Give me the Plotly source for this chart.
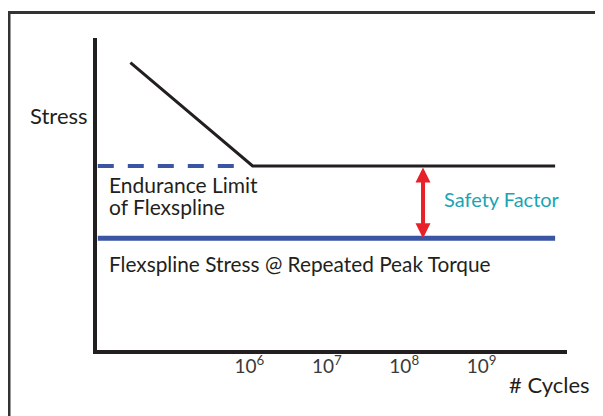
import math
import plotly.graph_objects as go

# ---- data ----
sn_cycles = [2.9e4, 1.1e6, 8.9e9]          # S-N curve (sloped + endurance plateau)
sn_stress = [9.21, 5.9, 5.9]
endurance_dash_cycles = [1.1e4, 6.5e5]     # dashed extension of endurance limit
endurance_limit = 5.9
peak_stress_cycles = [1.1e4, 8.9e9]        # flexspline stress at repeated peak torque
peak_stress = 3.58
safety_cycles = 1.75e8                     # position of the safety-factor arrow
tick_vals = [1e6, 1e7, 1e8, 1e9]
tick_text = ["10<sup>6</sup>", "10<sup>7</sup>", "10<sup>8</sup>", "10<sup>9</sup>"]

FONT = "Lato"
DARK = "#231f20"
BLUE = "#3a55a4"
RED = "#e8202a"
TEAL = "#19a4b4"

OFF = 8  # page body margin offset
W, H = 603 - OFF, 416 - OFF
L, T = 97 - OFF, 38 - OFF
R = 36
B = 416 - 350
PW, PH = W - L - R, H - T - B


def px(x):
    return (x - OFF - L) / PW


def py(y):
    return (H - B - (y - OFF)) / PH


fig = go.Figure()

fig.add_trace(go.Scatter(x=sn_cycles, y=sn_stress, mode="lines",
                         line=dict(color=DARK, width=3), hoverinfo="skip"))
fig.add_trace(go.Scatter(x=endurance_dash_cycles, y=[endurance_limit] * 2, mode="lines",
                         line=dict(color=BLUE, width=4, dash="16px,14px"), hoverinfo="skip"))
fig.add_trace(go.Scatter(x=peak_stress_cycles, y=[peak_stress] * 2, mode="lines",
                         line=dict(color=BLUE, width=5), hoverinfo="skip"))

xa = math.log10(safety_cycles)
fig.add_annotation(x=xa, y=peak_stress, ax=xa, ay=endurance_limit,
                   xref="x", yref="y", axref="x", ayref="y",
                   text="", showarrow=True, arrowside="end+start",
                   arrowhead=2, startarrowhead=2, arrowwidth=4,
                   arrowsize=0.75, startarrowsize=0.75, arrowcolor=RED,
                   standoff=0, startstandoff=0)


def txt(size, color=DARK):
    return dict(family=FONT, size=size, color=color)


fig.add_annotation(x=px(27.5), y=py(115), xref="paper", yref="paper", text="Stress",
                   showarrow=False, xanchor="left", yanchor="middle", font=txt(22))
fig.add_annotation(x=px(507), y=py(384.5), xref="paper", yref="paper", text="# Cycles",
                   showarrow=False, xanchor="left", yanchor="middle", font=txt(22))
fig.add_annotation(x=px(106.5), y=py(184), xref="paper", yref="paper", text="Endurance Limit",
                   showarrow=False, xanchor="left", yanchor="middle", font=txt(21))
fig.add_annotation(x=px(106.5), y=py(206), xref="paper", yref="paper", text="of Flexspline",
                   showarrow=False, xanchor="left", yanchor="middle", font=txt(21))
fig.add_annotation(x=px(106.5), y=py(263), xref="paper", yref="paper",
                   text="Flexspline Stress @ Repeated Peak Torque",
                   showarrow=False, xanchor="left", yanchor="middle", font=txt(20.8))
fig.add_annotation(x=px(442), y=py(199), xref="paper", yref="paper", text="Safety Factor",
                   showarrow=False, xanchor="left", yanchor="middle", font=txt(20, TEAL))

# outer frame
fig.add_shape(type="line", xref="paper", yref="paper", x0=px(9), x1=px(9), y0=py(11), y1=py(430),
              line=dict(color="#333333", width=3))
fig.add_shape(type="line", xref="paper", yref="paper", x0=px(7.5), x1=px(620), y0=py(12.5), y1=py(12.5),
              line=dict(color="#333333", width=3))

fig.update_xaxes(type="log", range=[4.031, 10.103], showline=True, linewidth=3.5, linecolor=DARK,
                 showgrid=False, zeroline=False, tickvals=tick_vals, ticktext=tick_text,
                 ticks="", ticklen=0, tickfont=dict(family=FONT, size=19, color="#3a3a3a"),
                 ticklabelstandoff=-4)
fig.update_yaxes(range=[0, 10], showline=True, linewidth=3.5, linecolor=DARK,
                 showgrid=False, zeroline=False, showticklabels=False, ticks="")

fig.update_layout(width=W, height=H, margin=dict(l=L, r=R, t=T, b=B, pad=0),
                  paper_bgcolor="white", plot_bgcolor="white", showlegend=False,
                  font=dict(family=FONT))

fig.write_html("out.html")
